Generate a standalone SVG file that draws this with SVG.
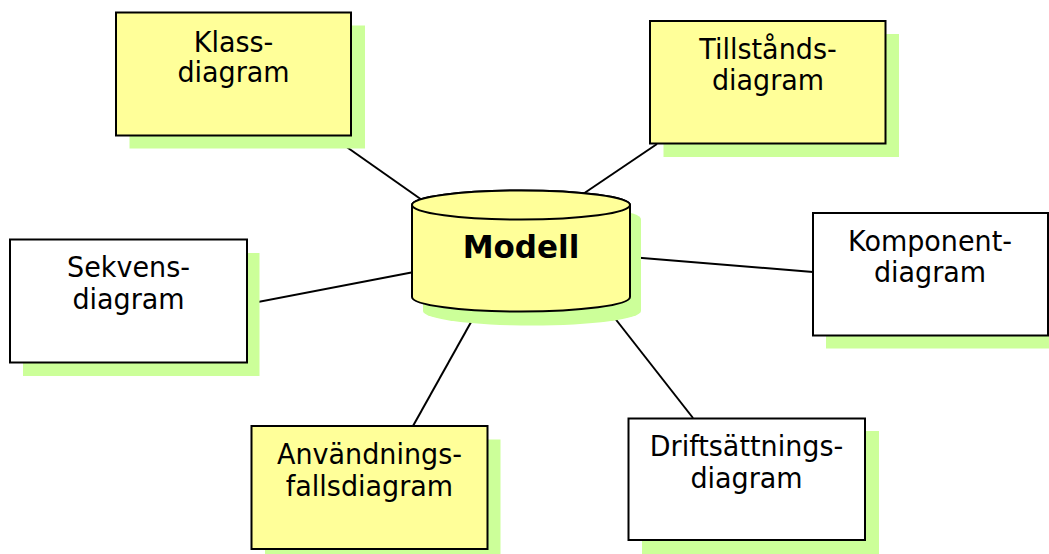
<svg xmlns="http://www.w3.org/2000/svg" width="1049" height="554" viewBox="0 0 1049 554">
  <style>
    .shadow { fill: #CCFF99; stroke: none; }
    .box { stroke: #000; stroke-width: 2; }
    .yellow { fill: #FFFF99; }
    .white { fill: #FFFFFF; }
    .label { font-family: "DejaVu Sans", Verdana, sans-serif; font-size: 27px; fill: #000; text-anchor: middle; }
    .title { font-family: "DejaVu Sans", Verdana, sans-serif; font-size: 31px; font-weight: bold; fill: #000; text-anchor: middle; }
    .conn { stroke: #000; stroke-width: 2; fill: none; }
  </style>

  <!-- connectors (drawn first so the nodes and their shadows sit on top) -->
  <g id="connectors">
    <line class="conn" x1="331" y1="136" x2="422" y2="200"/>
    <line class="conn" x1="657" y1="144" x2="583" y2="194"/>
    <line class="conn" x1="813" y1="272" x2="630" y2="257"/>
    <line class="conn" x1="247" y1="304" x2="414" y2="272"/>
    <line class="conn" x1="413" y1="426" x2="475" y2="315"/>
    <line class="conn" x1="693" y1="418" x2="610" y2="312"/>
  </g>

  <!-- central store -->
  <g id="modell">
    <path class="shadow" d="M423,219 A109,14.5 0 0 1 641,219 L641,311 A109,14.5 0 0 1 423,311 Z"/>
    <path class="box yellow" d="M412,205 A109,14.5 0 0 1 630,205 L630,297 A109,14.5 0 0 1 412,297 Z"/>
    <ellipse class="box yellow" cx="521" cy="205" rx="109" ry="14.5"/>
    <text class="title" transform="translate(521,258) scale(1,1.04)">Modell</text>
  </g>

  <!-- labels are slightly taller than wide: scaled vertically from their baseline -->
  <g id="klass">
    <rect class="shadow" x="129.5" y="25.5" width="235.5" height="123"/>
    <rect class="box yellow" x="116" y="12.5" width="235" height="123"/>
    <text class="label" transform="translate(233.5,51.5) scale(1,1.06)">Klass-</text>
    <text class="label" transform="translate(233.5,82) scale(1,1.06)">diagram</text>
  </g>

  <g id="tillstand">
    <rect class="shadow" x="663.5" y="34" width="235.5" height="123"/>
    <rect class="box yellow" x="650" y="21" width="235.5" height="122.5"/>
    <text class="label" transform="translate(768,58.5) scale(1,1.06)">Tillstånds-</text>
    <text class="label" transform="translate(768,90) scale(1,1.06)">diagram</text>
  </g>

  <g id="komponent">
    <rect class="shadow" x="826" y="226" width="223" height="122.5"/>
    <rect class="box white" x="813" y="213" width="235" height="122.5"/>
    <text class="label" transform="translate(930,250.5) scale(1,1.06)">Komponent-</text>
    <text class="label" transform="translate(930,282) scale(1,1.06)">diagram</text>
  </g>

  <g id="sekvens">
    <rect class="shadow" x="23" y="253" width="236.5" height="123"/>
    <rect class="box white" x="10" y="239.5" width="237" height="123"/>
    <text class="label" transform="translate(128.5,277) scale(1,1.06)">Sekvens-</text>
    <text class="label" transform="translate(128.5,308.5) scale(1,1.06)">diagram</text>
  </g>

  <g id="anvandningsfall">
    <rect class="shadow" x="265" y="439.5" width="235.5" height="123"/>
    <rect class="box yellow" x="251.5" y="426" width="236" height="123"/>
    <text class="label" transform="translate(369.5,464) scale(1,1.06)">Användnings-</text>
    <text class="label" transform="translate(369.5,495.5) scale(1,1.06)">fallsdiagram</text>
  </g>

  <g id="driftsattning">
    <rect class="shadow" x="642" y="431" width="237" height="123"/>
    <rect class="box white" x="628.5" y="418.5" width="236.5" height="121.5"/>
    <text class="label" transform="translate(746.5,455.5) scale(1,1.06)">Driftsättnings-</text>
    <text class="label" transform="translate(746.5,487.5) scale(1,1.06)">diagram</text>
  </g>
</svg>
